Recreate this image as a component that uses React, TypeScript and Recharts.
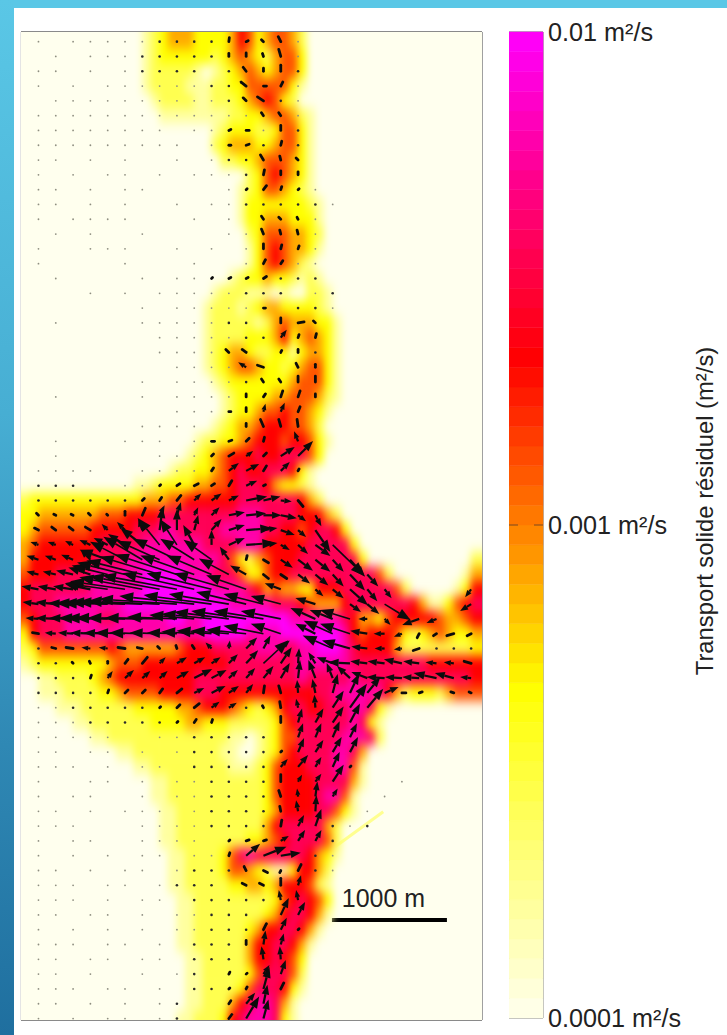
import React from "react";
import {
  Bar,
  BarChart,
  ReferenceArea,
  ReferenceLine,
  Scatter,
  ScatterChart,
  XAxis,
  YAxis,
} from "recharts";

// plot extent in metres
const xMaxM = 4009;
const yMaxM = 8591;
const plotW = 461;
const plotH = 988;

const heatColM = 75.2;
const gridRowM = 128.7;
const gridRowStartM = 84;
const arrowColM = 150.5;
const arrowColStartM = 152;

// residual transport, log level 0 (1e-4) to 9 (1e-2), one row per grid row: [first column, levels]
const heatRows: [number, string][] = [
  [14, "1234443333465345542"],
  [14, "1233333323454324553"],
  [14, "1222221012345434553"],
  [14, "1222211122335555531"],
  [15, "12222112223456532"],
  [16, "111111112233455421"],
  [22, "123332235531"],
  [22, "234443345531"],
  [23, "22334555431"],
  [26, "23565431"],
  [25, "123554321"],
  [25, "1333333321"],
  [25, "1334443331"],
  [26, "235554432"],
  [26, "135654431"],
  [26, "13565421"],
  [24, "12334332121"],
  [22, "12221110100221"],
  [21, "122212344333321"],
  [21, "1222221245444331"],
  [21, "1222233346345431"],
  [21, "1234432233134431"],
  [21, "1234554332345531"],
  [22, "123333333455531"],
  [23, "12333344555421"],
  [23, "1233455655431"],
  [22, "1234456665542"],
  [20, "1223345666566531"],
  [19, "1234566676677753"],
  [17, "12233456766777631"],
  [13, "112333344556777643321"],
  [0, "23333333333333444556666667777777642"],
  [0, "3344444445556666777777777888777766642"],
  [0, "34555555666667778877777888887766567763"],
  [0, "456666666777778888888777788866666777773"],
  [0, "46666666777788888888888753245666777777730000000000002"],
  [0, "56667777888888999998887775335667777777777520000000014"],
  [0, "67777777888888999999998888764544336667777775200000136"],
  [0, "67778888888899999999999988888777654446777777764113567"],
  [0, "56777888877888888998899999999998888887644356666654456"],
  [0, "36777888888888888888899999888899999998656665323454334"],
  [0, "23555555556544444456667777788877889998766664222222223"],
  [0, "12333333334555666666666677777777888888777777777666666"],
  [0, "00112222345666666666777777777777877777877777777777776"],
  [0, "00111222233455556666777666666666667788888864233324555"],
  [1, "000111222222333334456665432346776677788731"],
  [1, "00000112222222333344333222223567777778731"],
  [8, "1122222222222222110123557777788872"],
  [11, "11222222222211001235677778874"],
  [13, "112222222221112356667778851"],
  [15, "1122222222222356666777741"],
  [15, "112222222222235666678851"],
  [16, "11222222222234666677531"],
  [16, "112222222222467777742"],
  [16, "112222222233456777752"],
  [17, "11222235787777776431"],
  [17, "1122223554321136642"],
  [17, "1122222334434666521"],
  [18, "112222222223567653"],
  [18, "112222222234677641"],
  [18, "11222222346677641"],
  [18, "1122222246677641"],
  [19, "11222224667653"],
  [19, "11222223577752"],
  [19, "11222235777631"],
  [19, "1122246788741"],
  [18, "11222367888731"],
];

// quiver samples: [row, column, u, v], u and v in 1e-4 m2/s
const quiverTop: number[][] = [
  [0, 11, 0.5, -4], [0, 12, 2, -1], [0, 13, -2, -2], [0, 14, -2.5, -5],
  [1, 11, 0, -3], [1, 12, 0, -3.5], [1, 13, -1, -3], [1, 14, -2, -7],
  [2, 12, -3, -4], [2, 13, 0, -3], [2, 14, 0, -6],
  [3, 12, -5, -4], [3, 13, 3, 0], [3, 14, 2, -4],
  [4, 12, -3, -3], [4, 13, -6, -4],
  [5, 13, -2, -3], [5, 14, -2, -3],
  [6, 11, 2, -1], [6, 12, 3, 0], [6, 14, 0, -5],
  [7, 11, 2, 0], [7, 12, 3, -1], [7, 14, 1, -4],
  [8, 13, -3, -5], [8, 14, -1, -4], [8, 15, -2, -2],
  [9, 13, 1, -5], [9, 14, 0, -4], [9, 15, 0, -3],
  [10, 12, 1, -1], [10, 13, 3, -4], [10, 14, 1, -3], [10, 15, 1, -1],
  [12, 13, -2, -3], [12, 14, -2, -2], [12, 15, -1, -2],
  [13, 13, -2, -5], [13, 14, -1, -4], [13, 15, -1, -4],
  [14, 13, 0, -5], [14, 14, 1, -4], [14, 15, 1, -3],
  [15, 13, 2, -4], [15, 14, 2, -3],
  [16, 10, 1, -1], [16, 11, 2, -1], [16, 12, 2, -1], [16, 13, 3, -2],
  [18, 13, 2, 0],
  [19, 14, 0, -5], [19, 15, 6, -1], [19, 16, -2, -2],
  [20, 14, 6, -8], [20, 15, 1, -3], [20, 16, 1, -4],
  [21, 11, -3, -3], [21, 12, -4, -3], [21, 14, 1, -2], [21, 15, 0, -3],
  [22, 12, -8, -5], [22, 13, -6, -2], [22, 15, -2, -4], [22, 16, 0, -3],
  [23, 13, -2, -3], [23, 14, -2, -3], [23, 15, 0, -6], [23, 16, 0, -6],
  [24, 12, 0, -3], [24, 13, 2, -3], [24, 14, 2, -6], [24, 15, 2, -6], [24, 16, 0, -3],
  [25, 11, 2, 0], [25, 12, 0, -4], [25, 13, 2, -8], [25, 14, 4, -9], [25, 15, 2, -5],
  [26, 12, 0, -3], [26, 13, -3, -7], [26, 14, -2, -7], [26, 15, -1, -7],
];

const quiverDeltaNorth: number[][] = [
  [27, 10, 3, 0], [27, 11, 3, -1], [27, 12, 3, -3], [27, 13, 1, -4], [27, 15, -4, -10],
  [28, 10, 2, -2], [28, 11, 5, -3], [28, 12, 7, -5], [28, 13, 3, -3], [28, 14, 14, -9], [28, 15, 15, -15],
  [29, 10, 2, -3], [29, 11, 10, -8], [29, 12, 13, -7], [29, 13, 3, -5], [29, 14, 9, -9], [29, 15, 1, -2],
  [30, 7, 1, -1], [30, 8, 3, -2], [30, 9, 4, -2], [30, 10, 3, -2], [30, 11, 3, -5], [30, 12, 11, -5], [30, 13, 2, -1],
  [31, 6, 2, -2], [31, 7, 2, -3], [31, 8, 4, -5], [31, 9, 7, -7], [31, 10, 10, -7], [31, 11, 10, -5], [31, 12, 21, -4], [31, 13, 17, -4], [31, 14, 11, 1], [31, 15, 5, 6],
  [32, 0, -2, -2], [32, 1, -2, -1], [32, 2, -2, -1], [32, 3, -2, -2], [32, 4, -1, -1], [32, 5, 0, -4], [32, 6, 3, -7], [32, 7, 5, -10], [32, 8, 4, -13], [32, 9, 4, -8], [32, 10, 8, -8], [32, 11, 16, -3], [32, 12, 20, -2], [32, 13, 18, 0], [32, 14, 16, 3], [32, 15, 8, 6], [32, 16, 6, 11],
  [33, 0, -4, -2], [33, 1, -4, -3], [33, 2, -4, -3], [33, 3, -5, -3], [33, 4, -6, -6], [33, 5, -8, -8], [33, 6, -4, -11], [33, 7, 3, -23], [33, 8, 0, -21], [33, 9, 4, -15], [33, 10, 10, -11], [33, 11, 16, -5], [33, 12, 26, -2], [33, 13, 14, -2], [33, 14, 14, 5], [33, 15, 8, 7], [33, 16, 15, 22],
  [34, 0, -8, -3], [34, 1, -8, -3], [34, 2, -8, -4], [34, 3, -11, -5], [34, 4, -14, -7], [34, 5, -17, -11], [34, 6, -22, -17], [34, 7, -22, -27], [34, 8, -17, -26], [34, 9, -11, -20], [34, 10, 0, -15], [34, 11, 16, -7], [34, 12, 29, -2], [34, 13, 14, -2], [34, 14, 9, 5], [34, 15, 10, 9], [34, 16, 15, 11], [34, 17, 32, 31],
  [35, 0, -12, -4], [35, 1, -11, -4], [35, 2, -12, -5], [35, 3, -10, -10], [35, 4, -28, -10], [35, 5, -35, -18], [35, 6, -39, -23], [35, 7, -43, -19], [35, 8, -44, -21], [35, 9, -34, -21], [35, 10, -28, -20], [35, 11, -9, -13], [35, 12, 1, -4], [35, 13, 5, 3], [35, 14, 12, 8], [35, 15, 15, 11], [35, 16, 15, 12], [35, 17, 11, 12], [35, 18, 15, 17],
  [36, 0, -12, -3], [36, 1, -13, -3], [36, 2, -17, -4], [36, 3, -22, -7], [36, 4, -36, -9], [36, 5, -48, -12], [36, 6, -56, -14], [36, 7, -60, -18], [36, 8, -62, -20], [36, 9, -54, -19], [36, 10, -45, -19], [36, 11, -30, -16], [36, 12, -16, -9], [36, 13, 5, 4], [36, 14, 6, 4], [36, 15, 12, 9], [36, 16, 13, 11], [36, 17, 11, 12], [36, 18, 15, 16], [36, 19, 11, 12],
  [37, 0, -17, -3], [37, 1, -18, -3], [37, 2, -20, -3], [37, 3, -25, -5], [37, 4, -43, -6], [37, 5, -55, -8], [37, 6, -63, -12], [37, 7, -70, -13], [37, 8, -75, -14], [37, 9, -72, -16], [37, 10, -65, -16], [37, 11, -55, -16], [37, 12, -40, -14], [37, 14, -16, -6], [37, 16, 8, 7], [37, 17, 11, 9], [37, 18, 18, 16], [37, 19, 10, 12], [37, 20, 7, 9], [37, 25, -6, 8],
  [38, 0, -16, -2], [38, 1, -20, -2], [38, 2, -25, -1], [38, 3, -35, -1], [38, 4, -45, -1], [38, 5, -55, -2], [38, 6, -65, -2], [38, 7, -72, -3], [38, 8, -78, -5], [38, 9, -75, -8], [38, 10, -68, -9], [38, 11, -60, -10], [38, 12, -50, -12], [38, 13, -40, -10], [38, 14, -30, -8], [38, 16, -20, -6], [38, 18, 11, 8], [38, 19, 12, 10], [38, 20, 26, 16], [38, 25, -11, 7],
];

const quiverDeltaSouth: number[][] = [
  [39, 0, -13, -1], [39, 1, -20, -1], [39, 2, -24, -1], [39, 3, -32, -1], [39, 4, -42, -1], [39, 5, -50, -1], [39, 6, -55, -1], [39, 7, -55, -1], [39, 8, -50, -2], [39, 9, -45, -4], [39, 10, -50, -5], [39, 11, -55, -7], [39, 12, -55, -8], [39, 13, -50, -8], [39, 14, -40, -8], [39, 16, -25, -11], [39, 17, -23, -9], [39, 18, -30, -9], [39, 19, -9, 0], [39, 20, 6, 6], [39, 22, -17, 6], [39, 23, -10, 4],
  [40, 0, -6, -1], [40, 1, -11, -1], [40, 2, -15, -1], [40, 3, -20, -1], [40, 4, -24, -1], [40, 5, -30, -1], [40, 6, -33, -1], [40, 7, -30, -1], [40, 8, -30, -1], [40, 9, -33, -2], [40, 10, -35, -3], [40, 11, -38, -3], [40, 12, -40, -4], [40, 13, -40, -8], [40, 14, -30, -10], [40, 16, -20, -10], [40, 17, -29, -13], [40, 18, -30, -10], [40, 19, -17, -3], [40, 20, -11, 0], [40, 21, -8, 3], [40, 22, -2, 4], [40, 23, -3, 2], [40, 24, -7, 2], [40, 25, -4, 2],
  [41, 1, -4, -1], [41, 2, -7, -1], [41, 3, -9, -1], [41, 4, -9, -1], [41, 5, -7, -1], [41, 6, -5, -1], [41, 7, -2, -2], [41, 8, -1, -3], [41, 9, -2, -3], [41, 10, -6, -6], [41, 11, 1, -8], [41, 12, 11, -11], [41, 13, 7, -13], [41, 14, 9, -8], [41, 17, -30, -13], [41, 18, -28, -8], [41, 19, -16, -2], [41, 20, -10, 0], [41, 21, -8, 1], [41, 22, -6, 2],
  [42, 2, -1, -1], [42, 3, -1, -2], [42, 4, 0, -2], [42, 5, 3, -4], [42, 6, 5, -6], [42, 7, 6, -6], [42, 8, 10, -6], [42, 9, 11, -6], [42, 10, 9, -6], [42, 11, 9, -9], [42, 12, 12, -13], [42, 13, 25, -23], [42, 14, 11, -16], [42, 15, 1, -15], [42, 16, -7, -11], [42, 17, -16, -6], [42, 18, -22, -1], [42, 19, -17, -2], [42, 20, -17, -2], [42, 21, -18, -4], [42, 22, -16, -2], [42, 23, -11, -1], [42, 24, -10, -1], [42, 25, -7, -2],
  [43, 3, 1, -3], [43, 4, 5, -7], [43, 5, 9, -8], [43, 6, 8, -7], [43, 7, 8, -7], [43, 8, 12, -7], [43, 9, 18, -9], [43, 10, 15, -8], [43, 11, 9, -8], [43, 12, 9, -10], [43, 13, 10, -12], [43, 14, 9, -15], [43, 15, 2, -18], [43, 16, -7, -18], [43, 17, -6, -15], [43, 18, -13, -12], [43, 19, -16, -6], [43, 20, -18, -1], [43, 21, -17, -1], [43, 22, -17, -1], [43, 23, -23, -5], [43, 24, -19, -5], [43, 25, -11, -1],
  [44, 4, 1, -3], [44, 5, 3, -3], [44, 6, 3, -3], [44, 7, 3, -4], [44, 8, 5, -4], [44, 9, 10, -5], [44, 10, 14, -7], [44, 11, 10, -7], [44, 12, 7, -9], [44, 13, 1, -7], [44, 14, -2, -7], [44, 15, -1, -13], [44, 16, -3, -14], [44, 17, 5, -19], [44, 18, 9, -19], [44, 19, 13, -16], [44, 20, 14, -6], [44, 21, 4, 0], [44, 22, 3, -1], [44, 24, -3, -1], [44, 25, -2, -1],
  [45, 7, 1, -1], [45, 8, 3, -3], [45, 9, 5, -4], [45, 10, 8, -6], [45, 11, 8, -5], [45, 13, -1, -2], [45, 14, -1, -6], [45, 15, -2, -9], [45, 16, -1, -13], [45, 17, 11, -17], [45, 18, 17, -24], [45, 19, 16, -19],
  [46, 8, 1, -1], [46, 9, 2, -3], [46, 10, 1, -3], [46, 14, 0, -6], [46, 15, 4, -14], [46, 16, 8, -14], [46, 17, 11, -16], [46, 18, 10, -19],
];

const quiverRibbon: number[][] = [
  [47, 15, 5, -14], [47, 16, 6, -14], [47, 17, 7, -16], [47, 18, 7, -14],
  [48, 14, 1, -1], [48, 15, 6, -14], [48, 16, 8, -12], [48, 17, 9, -15], [48, 18, 8, -15],
  [49, 14, 7, -8], [49, 15, 10, -12], [49, 16, 6, -10], [49, 17, 7, -15], [49, 18, 1, -1],
  [50, 14, 0, -7], [50, 15, 4, -7], [50, 16, 6, -8], [50, 17, 11, -17],
  [51, 14, -2, -6], [51, 15, -1, -8], [51, 16, 2, -15], [51, 17, 5, -8],
  [52, 14, -1, -5], [52, 15, -2, -11], [52, 16, 1, -16],
  [53, 14, 1, -6], [53, 15, 6, -11], [53, 16, 6, -17],
  [54, 11, 1, -1], [54, 12, 3, -1], [54, 13, 3, -1], [54, 14, 8, -5], [54, 15, 7, -11], [54, 16, 6, -11],
  [55, 11, 1, -3], [55, 12, 14, -12], [55, 13, 23, -9], [55, 14, 20, -3],
  [56, 12, -2, -4], [56, 13, 4, 2], [56, 14, -1, 2], [56, 15, 3, -6],
  [57, 12, -4, -2], [57, 13, -4, -2], [57, 14, 0, -7], [57, 15, 3, -10],
  [58, 14, -2, -10], [58, 15, -2, -10],
  [59, 14, 8, -17], [59, 15, 7, -13],
  [60, 13, 3, -6], [60, 14, 6, -12], [60, 15, 1, -1],
  [61, 12, 0, -4], [61, 13, 2, -14], [61, 14, 3, -11],
  [62, 13, -2, -13], [62, 14, -1, -13],
  [63, 11, 1, -2], [63, 12, 1, -1], [63, 13, 6, -9], [63, 14, 5, -14],
  [64, 11, 1, -1], [64, 12, 1, -2], [64, 13, 6, -22], [64, 14, 3, -6],
  [65, 11, 2, -3], [65, 12, 9, -11], [65, 13, 4, -19],
  [66, 11, 3, -4], [66, 12, 13, -22], [66, 13, 5, -19],
];

// vectors too short to show a direction: "." faint, ":" dark
const dotRows: string[] = [
  ". .....::::    .",
  " . ...:::::    .",
  ".. . .:::: :   :",
  ". . ......::   .",
  " ..........:  :.",
  ".............  .",
  "........ ..  . :",
  "......... .  : :",
  ".. . .  . .::",
  ". . .. . ...:",
  ".. . ..    .    .",
  ".. . .  . ..:::::.",
  ". ....   . .    .",
  " . .  .    ..   .",
  ".  ...  . . .   .",
  ".    .   .  .  ..",
  " .    . ..    :::",
  "   . . .....::: .:",
  "      . .....: ::.",
  " .    .....::",
  "       .....::",
  "       .....: : :",
  "        .....  :",
  "      . ....:",
  " .    . ....",
  "        ...",
  "      ....",
  " .   ... ..",
  " .     ....",
  "....  ....",
  ":::  ..",
  "::::::",
  "",
  "",
  "",
  "",
  "",
  "",
  "",
  "                      ::",
  "",
  ":                      :::",
  "::",
  ":::",
  "::::",
  "..:::::    ::",
  "...::::: ",
  ".....  ..:::::",
  ".. .. . .:::::",
  "... . .. :::::",
  ".  .. . ..::::   .   .",
  ". ..  . ..:::::     .",
  ".. . ... .::::  :  .",
  "...   ....:::::  :.:",
  ". ..  .... :::  .:",
  ". . . .. ...:.  :.",
  ".. . .. .:::    :.",
  "... .. .::: ",
  "... . .. :::::",
  ".. .. . ..:::",
  ". . . . ..:::",
  "... .. . :::",
  ".. .. .. :::",
  ".. .  . .:",
  "... .. . ::",
  ".. . . .:",
  ". . .. .:",
];

const tickLabels = ["0.0001 m²/s", "0.001 m²/s", "0.01 m²/s"];
const colorbarBandCount = 50;

const quiverAll = [...quiverTop, ...quiverDeltaNorth, ...quiverDeltaSouth, ...quiverRibbon];

const pxX = plotW / xMaxM;
const pxY = plotH / yMaxM;

function mix(a: number[], b: number[], t: number) {
  return `rgb(${a.map((v, i) => Math.round(v + (b[i] - v) * t)).join(",")})`;
}

// white-yellow-red-magenta map of the colour bar
function levelColor(level: number) {
  const t = level / 9;
  if (t < 1 / 3) return mix([255, 255, 238], [255, 255, 0], t * 3);
  if (t < 2 / 3) return mix([255, 255, 0], [255, 0, 0], (t - 1 / 3) * 3);
  return mix([255, 0, 0], [255, 0, 255], (t - 2 / 3) * 3);
}

const heatData = heatRows.flatMap(([start, levels], row) =>
  levels
    .split("")
    .map((ch, i) => ({
      x: (start + i + 0.5) * heatColM,
      y: gridRowStartM + row * gridRowM,
      level: Number(ch),
      col: start + i,
      row,
    }))
    .filter((d) => d.level > 0)
);

const arrowData = quiverAll.map(([row, col, u, v]) => ({
  x: arrowColStartM + col * arrowColM,
  y: gridRowStartM + row * gridRowM,
  u,
  v,
}));

const arrowKeys = new Set(quiverAll.map(([row, col]) => `${row}-${col}`));
const dotData = dotRows.flatMap((line, row) =>
  line
    .split("")
    .map((ch, col) => ({
      x: arrowColStartM + col * arrowColM,
      y: gridRowStartM + row * gridRowM,
      dark: ch === ":",
      ch,
      key: `${row}-${col}`,
    }))
    .filter((d) => d.ch !== " " && !arrowKeys.has(d.key))
);

const bandRow: Record<string, number | string> = { name: "bar" };
const bandKeys = Array.from({ length: colorbarBandCount }, (_, i) => `b${i}`);
bandKeys.forEach((k) => {
  bandRow[k] = 2 / colorbarBandCount;
});

function HeatCell(props: any) {
  const { cx, cy, payload } = props;
  const w = heatColM * pxX;
  const h = gridRowM * pxY;
  // edge cells run past the frame so the blur does not fade at the border
  const left = payload.col === 0 ? 30 : 0;
  const right = payload.col === 52 ? 30 : 0;
  const top = payload.row === 0 ? 30 : 0;
  const bottom = payload.row === 66 ? 30 : 0;
  return (
    <rect
      x={cx - w / 2 - left - 0.3}
      y={cy - h / 2 - top - 0.3}
      width={w + left + right + 0.6}
      height={h + top + bottom + 0.6}
      fill={levelColor(payload.level)}
    />
  );
}

function QuiverArrow(props: any) {
  const { cx, cy, payload } = props;
  const { u, v } = payload;
  const len = Math.hypot(u, v);
  const tipX = cx + u;
  const tipY = cy + v;
  if (len < 8) {
    return <line x1={cx} y1={cy} x2={tipX} y2={tipY} stroke="#0c0c0c" strokeWidth={2.8} strokeLinecap="round" />;
  }
  const head = Math.min(14, 4 + len * 0.3);
  const half = head * 0.38;
  const ux = u / len;
  const uy = v / len;
  const bx = tipX - ux * head;
  const by = tipY - uy * head;
  return (
    <g>
      <line x1={cx} y1={cy} x2={bx} y2={by} stroke="#0c0c0c" strokeWidth={len > 30 ? 1.6 : 2.2} />
      <polygon
        points={`${tipX},${tipY} ${bx - uy * half},${by + ux * half} ${bx + uy * half},${by - ux * half}`}
        fill="#0c0c0c"
      />
    </g>
  );
}

function QuiverDot(props: any) {
  const { cx, cy, payload } = props;
  return <circle cx={cx} cy={cy} r={payload.dark ? 1.3 : 0.9} fill={payload.dark ? "#2a2a2a" : "#8e8e80"} />;
}

export default function App() {
  const font = "'Liberation Sans', Arial, sans-serif";
  return (
    <div style={{ position: "absolute", left: 0, top: 0, width: 727, height: 1035, background: "#fff", overflow: "hidden" }}>
      <style>{`
        .heat-layer { filter: url(#heatBlur); }
        .quiver-layer { filter: blur(0.35px); }
      `}</style>
      <svg width={0} height={0} style={{ position: "absolute" }}>
        <filter id="heatBlur" x="-10%" y="-10%" width="120%" height="120%" colorInterpolationFilters="sRGB">
          <feGaussianBlur stdDeviation="3.6 5.6" />
        </filter>
      </svg>
      <div style={{ position: "absolute", left: 0, top: 0, width: 727, height: 8, background: "#5ac7e6" }} />
      <div
        style={{
          position: "absolute",
          left: 0,
          top: 0,
          width: 14,
          height: 1035,
          background: "linear-gradient(180deg, #5ac7e6 0%, #47aed3 40%, #2f88b4 72%, #1f6f9f 100%)",
        }}
      />

      <div
        style={{
          position: "absolute",
          left: 21,
          top: 32,
          width: plotW,
          height: plotH,
          background: "#ffffee",
          overflow: "hidden",
          boxShadow: "0 -1px 0 #8a8a8a, 1px 0 0 #a0a0a0, 0 1px 0 #8a8a8a, -1px 0 0 #e4e4e4",
        }}
      >
        <ScatterChart width={plotW} height={plotH} margin={{ top: 0, right: 0, bottom: 0, left: 0 }}>
          <XAxis type="number" dataKey="x" domain={[0, xMaxM]} hide />
          <YAxis type="number" dataKey="y" domain={[0, yMaxM]} reversed hide />
          <Scatter className="heat-layer" data={heatData} shape={HeatCell} isAnimationActive={false} />
          <Scatter className="quiver-layer" data={dotData} shape={QuiverDot} isAnimationActive={false} />
          <Scatter className="quiver-layer" data={arrowData} shape={QuiverArrow} isAnimationActive={false} />
          <ReferenceLine
            segment={[
              { x: 2600, y: 7180 },
              { x: 3150, y: 6780 },
            ]}
            stroke="#ffff90"
            strokeWidth={3}
          />
          <ReferenceLine
            segment={[
              { x: 2690, y: 6870 },
              { x: 2880, y: 6680 },
            ]}
            stroke="#ffe860"
            strokeWidth={3}
          />
          <ReferenceLine
            segment={[
              { x: 2704, y: 7722 },
              { x: 3704, y: 7722 },
            ]}
            stroke="#000"
            strokeWidth={4}
            label={{ value: "1000 m", position: "top", offset: 13, dx: -6, fill: "#222", fontSize: 25, fontFamily: font }}
          />
        </ScatterChart>
      </div>

      <div style={{ position: "absolute", left: 509, top: 0 }}>
        <BarChart
          width={218}
          height={1035}
          data={[bandRow]}
          margin={{ top: 32, right: 0, bottom: 17, left: 0 }}
          barCategoryGap={0}
        >
          <XAxis dataKey="name" hide />
          <YAxis
            orientation="right"
            width={184}
            type="number"
            domain={[0, 2]}
            ticks={[0, 1, 2]}
            interval={0}
            tickFormatter={(t: number) => tickLabels[t]}
            tick={{ fill: "#222", fontSize: 25.2, fontFamily: font, textAnchor: "start" }}
            tickLine={false}
            tickSize={0}
            axisLine={false}
            tickMargin={5}
            label={{
              value: "Transport solide résiduel (m²/s)",
              angle: -90,
              position: "insideRight",
              offset: 22,
              dy: -14,
              fill: "#222",
              fontSize: 23.8,
              fontFamily: font,
              style: { textAnchor: "middle" },
            }}
          />
          {bandKeys.map((k, i) => (
            <Bar
              key={k}
              dataKey={k}
              stackId="bar"
              fill={levelColor((9 * (i + 0.5)) / colorbarBandCount)}
              stroke={levelColor((9 * (i + 0.5)) / colorbarBandCount)}
              strokeWidth={0.5}
              isAnimationActive={false}
            />
          ))}
          <ReferenceLine y={1} stroke="#7a4a20" strokeDasharray="9 16 9" />
          <ReferenceArea y1={0} y2={2} fill="none" stroke="#6a6a6a" strokeWidth={1} ifOverflow="visible" />
        </BarChart>
      </div>
    </div>
  );
}
